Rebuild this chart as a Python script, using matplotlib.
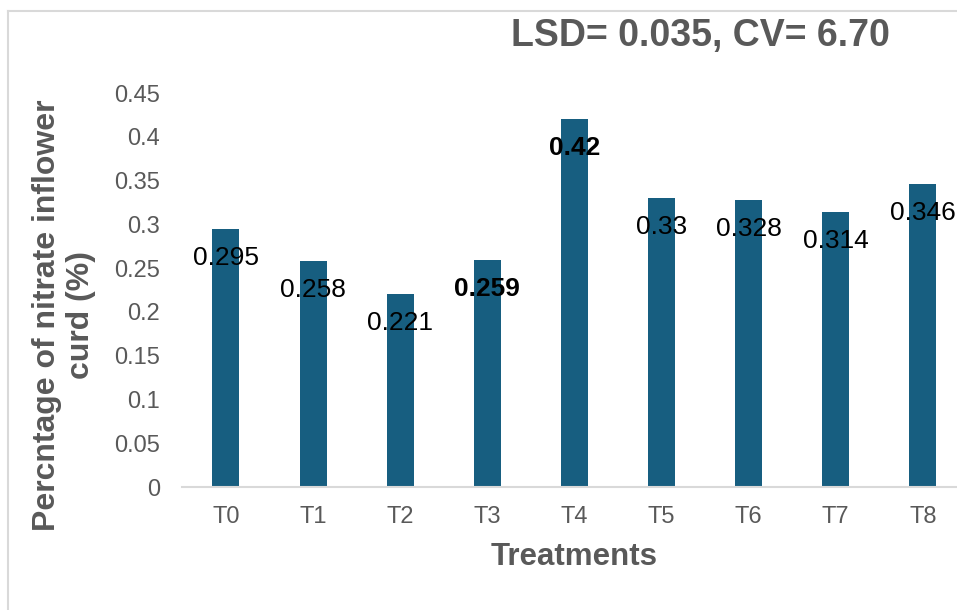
import matplotlib
matplotlib.use("Agg")
import matplotlib.pyplot as plt
from matplotlib.lines import Line2D

plt.rcParams['font.family'] = ['Liberation Sans', 'DejaVu Sans']

treatments = ["T0", "T1", "T2", "T3", "T4", "T5", "T6", "T7", "T8"]
nitrate = [0.295, 0.258, 0.221, 0.259, 0.42, 0.33, 0.328, 0.314, 0.346]
label_text = ["0.295", "0.258", "0.221", "0.259", "0.42", "0.33", "0.328", "0.314", "0.346"]
bold_labels = ["T3", "T4"]
y_ticks = [0, 0.05, 0.1, 0.15, 0.2, 0.25, 0.3, 0.35, 0.4, 0.45]
y_tick_text = ["0", "0.05", "0.1", "0.15", "0.2", "0.25", "0.3", "0.35", "0.4", "0.45"]

W, H = 957, 610
fig = plt.figure(figsize=(W / 100, H / 100), dpi=100)
ax = fig.add_axes([182.4 / W, 123 / H, 784 / W, 394 / H])

x = range(len(treatments))
ax.bar(x, nitrate, width=0.31, color="#175E80", zorder=2)

for i, v in enumerate(nitrate):
    ax.annotate(label_text[i], (i, v), xytext=(0, -21), textcoords="offset points",
                ha="center", va="center", fontsize=19, color="black",
                fontweight="bold" if treatments[i] in bold_labels else "normal",
                annotation_clip=False, zorder=3)

ax.set_xlim(-0.5, len(treatments) - 0.5)
ax.set_ylim(0, 0.45)
ax.set_yticks(y_ticks)
ax.set_yticklabels(y_tick_text)
ax.set_xticks(list(x))
ax.set_xticklabels(treatments)

ax.tick_params(axis="y", length=0, pad=16, labelsize=17, labelcolor="#595959")
ax.tick_params(axis="x", length=0, pad=14, labelsize=17, labelcolor="#595959")

for s in ["top", "right", "left"]:
    ax.spines[s].set_visible(False)
ax.spines["bottom"].set_color("#d9d9d9")
ax.spines["bottom"].set_linewidth(1.5)

ax.set_xlabel("Treatments", fontsize=22.5, fontweight="bold", color="#595959", labelpad=10)

fig.text(64 / W, 1 - 315 / H, "Percntage of nitrate inflower\ncurd (%)", rotation=90,
         ha="center", va="center", fontsize=23, fontweight="bold", color="#595959",
         multialignment="center", linespacing=1.15)

fig.text(700 / W, 1 - 36 / H, "LSD= 0.035, CV= 6.70", ha="center", va="center",
         fontsize=27, fontweight="bold", color="#595959")

# outer chart frame (partly cropped in the original)
fig.add_artist(Line2D([8 / W, 8 / W], [0, 1 - 11 / H], transform=fig.transFigure,
                      color="#d9d9d9", linewidth=1.5))
fig.add_artist(Line2D([8 / W, 1], [1 - 11 / H, 1 - 11 / H], transform=fig.transFigure,
                      color="#d9d9d9", linewidth=1.5))

fig.savefig("out.png", dpi=100)
